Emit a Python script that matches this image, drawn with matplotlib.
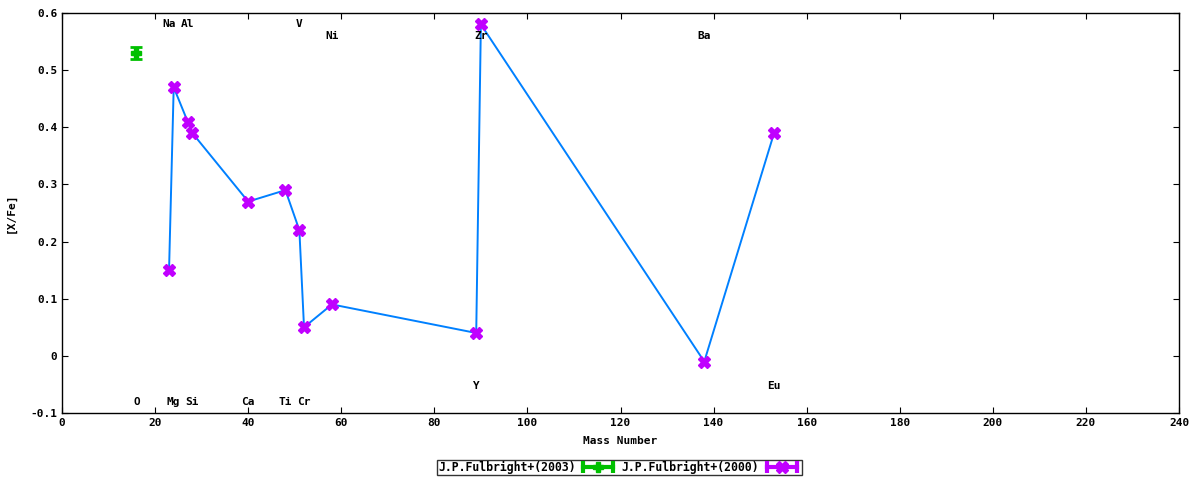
import matplotlib
matplotlib.use('Agg')
import matplotlib.pyplot as plt
from matplotlib.ticker import MultipleLocator
from matplotlib.lines import Line2D
from matplotlib.legend_handler import HandlerLine2D, HandlerTuple

# Fulbright+(2003): O
o_mass = [16]
o_val = [0.53]
o_err = [0.01]

# Fulbright+(2000)
mass = [23, 24, 27, 28, 40, 48, 51, 52, 58, 89, 90, 138, 153]
xfe = [0.15, 0.47, 0.41, 0.39, 0.27, 0.29, 0.22, 0.05, 0.09, 0.04, 0.58, -0.01, 0.39]

# element labels (name, mass, y position of label)
lab_names = ['Na', 'Al', 'V', 'Ni', 'Zr', 'Ba', 'O', 'Mg', 'Si', 'Ca', 'Ti', 'Cr', 'Y', 'Eu']
lab_mass = [23, 27, 51, 58, 90, 138, 16, 24, 28, 40, 48, 52, 89, 153]
lab_y = [0.58, 0.58, 0.58, 0.56, 0.56, 0.56, -0.08, -0.08, -0.08, -0.08, -0.08, -0.08, -0.052, -0.052]

green = '#00c000'
purple = '#c000ff'
blue = '#0080ff'

plt.rcParams['font.family'] = 'DejaVu Sans Mono'
plt.rcParams['font.weight'] = 'bold'
plt.rcParams['font.size'] = 8

fig = plt.figure(figsize=(12, 4.8), dpi=100)
ax = fig.add_axes([62/1200, 67/480, 1117/1200, 400/480])

ax.errorbar(o_mass, o_val, yerr=o_err, fmt='P', color=green, ms=7,
            elinewidth=2, capsize=4, capthick=2)
ax.plot(mass, xfe, '-', color=blue, lw=1.4, zorder=2)
ax.plot(mass, xfe, 'X', color=purple, ms=9, ls='none', zorder=3)

for n, m, y in zip(lab_names, lab_mass, lab_y):
    ax.text(m, y, n, ha='center', va='center', fontsize=8, fontweight='bold')

ax.set_xlim(0, 240)
ax.set_ylim(-0.1, 0.6)
ax.xaxis.set_major_locator(MultipleLocator(20))
ax.tick_params(direction='in', top=True, right=True, length=4, width=0.8, labelsize=8)
ax.set_yticks([-0.1, 0, 0.1, 0.2, 0.3, 0.4, 0.5, 0.6])
ax.set_yticklabels(['-0.1', '0', '0.1', '0.2', '0.3', '0.4', '0.5', '0.6'])
for s in ax.spines.values():
    s.set_linewidth(1.0)

ax.set_xlabel('Mass Number', fontsize=8, fontweight='bold', labelpad=6)
ax.set_ylabel('[X/Fe]', fontsize=8, fontweight='bold', labelpad=10)

# gnuplot-style legend keys: horizontal bar with end caps and a point in the middle
bar_g = Line2D([], [], color=green, lw=3, marker='|', ms=9, mew=3)
pt_g = Line2D([], [], color=green, marker='P', ms=7, ls='none')
bar_p = Line2D([], [], color=purple, lw=3, marker='|', ms=9, mew=3)
pt_p = Line2D([], [], color=purple, marker='X', ms=8, ls='none')
hmap = {bar_g: HandlerLine2D(numpoints=2), bar_p: HandlerLine2D(numpoints=2),
        pt_g: HandlerLine2D(numpoints=1), pt_p: HandlerLine2D(numpoints=1),
        tuple: HandlerTuple(ndivide=1, pad=0)}
leg = fig.legend([(bar_g, pt_g), (bar_p, pt_p)],
                 ['J.P.Fulbright+(2003)', 'J.P.Fulbright+(2000)'],
                 handler_map=hmap,
                 loc='center', bbox_to_anchor=(0.516, 0.026), ncol=2, markerfirst=False,
                 frameon=True, fancybox=False, edgecolor='black', handlelength=3.2,
                 borderpad=0.1, borderaxespad=0, columnspacing=0.4, handletextpad=0.4,
                 fontsize=8.3)
leg.get_frame().set_linewidth(1.0)

fig.savefig('out.png', dpi=100)
